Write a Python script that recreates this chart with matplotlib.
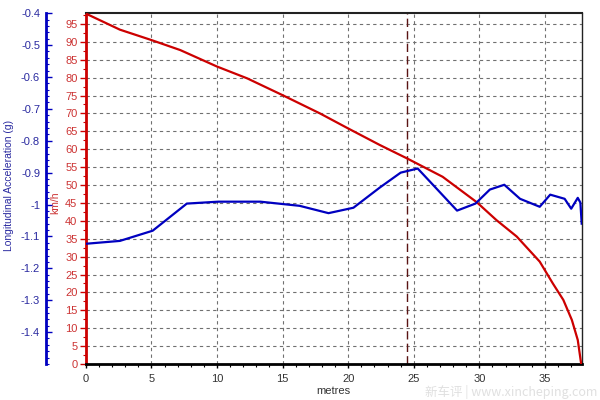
import numpy as np
import matplotlib
matplotlib.use('Agg')
import matplotlib.pyplot as plt
from matplotlib.ticker import MultipleLocator

plt.rcParams['font.family'] = ['Liberation Sans', 'DejaVu Sans']

# speed trace (km/h) against distance
dist_speed = [0, 2.6, 5.0, 7.2, 10.0, 12.3, 15.0, 17.85, 20.0, 22.4, 24.45,
              27.2, 29.8, 31.3, 32.85, 34.6, 35.6, 36.4, 37.05, 37.5, 37.75]
speed = [97.9, 93.4, 90.5, 87.7, 83.1, 79.8, 75.1, 70.0, 65.8, 61.2, 57.5,
         52.3, 45.2, 40.2, 35.6, 28.6, 22.5, 17.9, 12.3, 6.7, 0.3]

# longitudinal acceleration (g) against distance
dist_acc = [0, 2.6, 5.1, 7.7, 10.1, 13.3, 16.3, 18.5, 20.4, 22.4, 24.0, 25.3,
            28.3, 29.7, 30.8, 31.9, 33.1, 34.6, 35.4, 36.5, 37.0, 37.5, 37.7, 37.8]
accel = [-1.123, -1.114, -1.082, -0.997, -0.991, -0.991, -1.004, -1.027, -1.010,
         -0.947, -0.900, -0.887, -1.019, -0.997, -0.953, -0.938, -0.982, -1.007,
         -0.969, -0.982, -1.013, -0.979, -0.994, -1.06]
acc_ticks = [-1.4, -1.3, -1.2, -1.1, -1.0, -0.9, -0.8, -0.7, -0.6, -0.5, -0.4]
acc_labels = ['-1.4', '-1.3', '-1.2', '-1.1', '-1', '-0.9', '-0.8', '-0.7', '-0.6', '-0.5', '-0.4']

marker_x = 24.45

red = '#cc0000'
blue = '#0000c0'

fig = plt.figure(figsize=(6, 4), dpi=100)
ax = fig.add_axes([0.143, 0.09, 0.8265, 0.877])

ax.set_xlim(0, 37.8)
ax.set_ylim(0, 98)
ax.xaxis.set_major_locator(MultipleLocator(5))
ax.xaxis.set_minor_locator(MultipleLocator(1))
ax.yaxis.set_major_locator(MultipleLocator(5))
ax.yaxis.set_minor_locator(MultipleLocator(2.5))
ax.grid(True, which='major', color='#707070', linestyle=(0, (3, 3)), linewidth=0.8)
ax.set_axisbelow(True)

ax.plot(dist_speed, speed, color=red, lw=1.6, zorder=3)
ax.axvline(marker_x, color='#5a1414', lw=1, linestyle=(0, (6, 3)), zorder=2)

ax.tick_params(axis='y', which='major', colors=red, labelcolor='#cc3333', labelsize=8, length=4, width=1, direction='out', pad=2)
ax.tick_params(axis='y', which='minor', colors=red, length=2, width=0.8, direction='out')
ax.tick_params(axis='x', which='major', colors='black', labelcolor='#333333', labelsize=8, length=3, width=1, direction='out', pad=4)
ax.tick_params(axis='x', which='minor', colors='black', length=2, width=0.8, direction='out')

ax.spines['left'].set_color(red)
ax.spines['left'].set_linewidth(2)
ax.spines['bottom'].set_color('black')
ax.spines['bottom'].set_linewidth(2)
ax.spines['top'].set_color('#222222')
ax.spines['top'].set_linewidth(1.5)
ax.spines['right'].set_color('#222222')
ax.spines['right'].set_linewidth(1)

ax.text(-0.062, 0.46, 'km/h', color='#cc3333', fontsize=7.5, rotation=90,
        ha='center', va='center', transform=ax.transAxes)
ax.set_xlabel('metres', color='#333333', fontsize=8, labelpad=2)

# acceleration on a second, offset left axis
ax2 = ax.twinx()
ax2.set_ylim(-1.5, -0.4)
ax2.plot(dist_acc, accel, color=blue, lw=1.6, zorder=4)
ax2.spines['left'].set_visible(True)
ax2.spines['left'].set_position(('axes', -0.081))
ax2.spines['left'].set_color(blue)
ax2.spines['left'].set_linewidth(2)
ax2.spines['right'].set_visible(False)
ax2.spines['top'].set_visible(False)
ax2.spines['bottom'].set_visible(False)
ax2.yaxis.set_ticks_position('left')
ax2.yaxis.set_minor_locator(MultipleLocator(0.02))
ax2.set_yticks(acc_ticks)
ax2.set_yticklabels(acc_labels)
ax2.tick_params(axis='y', which='major', colors=blue, labelcolor='#2a2aa0', labelsize=8, length=4, width=1, direction='in', pad=4)
ax2.tick_params(axis='y', which='minor', colors=blue, length=2, width=0.8, direction='in')
ax2.text(-0.155, 0.508, 'Longitudinal Acceleration (g)', color='#2a2aa0', fontsize=7.5,
         rotation=90, ha='center', va='center', transform=ax2.transAxes)

fig.text(0.995, 0.02, '新车评 | www.xincheping.com', color='#e0e0e0', fontsize=9,
         ha='right', va='center', family=['Noto Sans CJK SC', 'DejaVu Sans'])

fig.savefig('out.png', dpi=100)
